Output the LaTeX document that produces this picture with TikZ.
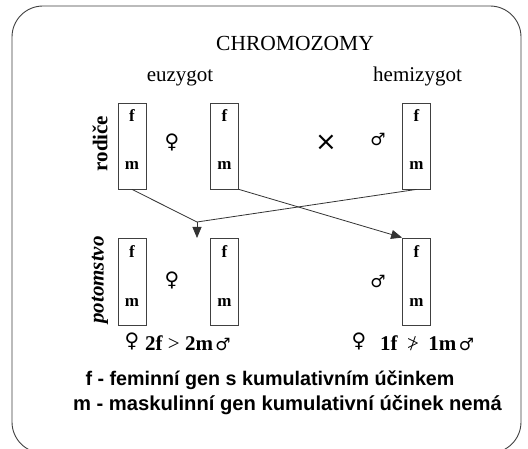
\documentclass[tikz,border=0pt]{standalone}
\usepackage{fontspec}
\setmainfont{Liberation Serif}
\newfontfamily\legendfont{Liberation Sans}
\newfontfamily\symfont{DejaVu Sans}
\usetikzlibrary{arrows.meta}

\begin{document}
\begin{tikzpicture}[x=1pt,y=-1pt,
  chrom/.style={draw=black!75, line width=0.8pt, minimum width=28pt, inner sep=0pt},
  parent/.style={chrom, minimum height=86pt},
  child/.style={chrom, minimum height=87pt},
  gene/.style={font=\fontsize{17}{17}\selectfont\bfseries, anchor=base, inner sep=0pt},
  heading/.style={font=\fontsize{21}{21}\selectfont, anchor=base, inner sep=0pt},
  rowlabel/.style={font=\fontsize{21}{21}\selectfont\bfseries, rotate=90, inner sep=0pt},
  sex/.style={font=\symfont\fontsize{17}{17}\selectfont, inner sep=0pt},
  female/.style={font=\symfont\fontsize{20}{20}\selectfont, inner sep=0pt},
  crossmark/.style={font=\symfont\fontsize{26}{26}\selectfont, inner sep=0pt},
  ratio/.style={font=\fontsize{21}{21}\selectfont\bfseries, anchor=base west, inner sep=0pt},
  legend/.style={font=\legendfont\fontsize{19.7}{19.7}\selectfont\bfseries, anchor=base, inner sep=0pt},
  link/.style={draw=black!80, line width=0.8pt},
  tip/.style={-{Triangle[width=9pt,length=11pt]}}
]
\clip (0,0) rectangle (528,449);
\useasboundingbox (0,0) rectangle (528,449);
\fill[white] (0,0) rectangle (528,449);

% frame
\draw[black!75, line width=0.9pt, rounded corners=31pt] (12,6) rectangle (521,453);

% titles
\node[heading, font=\fontsize{21.5}{21.5}\selectfont] (title) at (295,50.5) {CHROMOZOMY};
\node[heading] (eu) at (180,82) {euzygot};
\node[heading] (hemi) at (417.5,82) {hemizygot};

% row labels
\node[rowlabel] (rodice) at (100,143.5) {rodiče};
\node[rowlabel, font=\fontsize{21}{21}\selectfont\bfseries\itshape] (potomstvo) at (100,280) {potomstvo};

% parental chromosomes
\node[parent] (pA) at (132,146) {};
\node[parent] (pB) at (224.5,146) {};
\node[parent] (pC) at (416.5,146) {};
\foreach \b in {pA,pB,pC}{
  \node[gene] (\b f) at ([yshift=-19pt]\b.north) {f};
  \node[gene] (\b m) at ([yshift=-67pt]\b.north) {m};
}

% offspring chromosomes
\node[child] (oA) at (132,281.5) {};
\node[child] (oB) at (224.5,281.5) {};
\node[child] (oC) at (416.5,281.5) {};
\foreach \b in {oA,oB,oC}{
  \node[gene] (\b f) at ([yshift=-20pt]\b.north) {f};
  \node[gene] (\b m) at ([yshift=-69pt]\b.north) {m};
}

% sex symbols and cross
\node[female] (fem1) at (172,142) {♀};
\node[crossmark] (cross) at (326,143) {×};
\node[sex] (mal1) at (378,140) {♂};
\node[female] (fem2) at (172,280) {♀};
\node[sex] (mal2) at (378,281) {♂};

% ratios
\node[female] (fem3) at (132,341) {♀};
\node[ratio] (r1) at (145,351) {2f {\mdseries >} 2m};
\node[sex, anchor=west] (mal3) at ([xshift=2pt,yshift=7pt]r1.base east) {♂};
\node[female] (fem4) at (359,341) {♀};
\node[ratio] (r2) at (380,351) {1f\hspace{0.45em}{\mdseries\ooalign{>\cr\hidewidth/\hidewidth}}\hspace{0.45em}1m};
\node[sex, anchor=west] (mal4) at ([xshift=2pt,yshift=7pt]r2.base east) {♂};

% legend
\node[legend] (lf) at (270,385) {f - feminní gen s kumulativním účinkem};
\node[legend, font=\legendfont\fontsize{20.2}{20.2}\selectfont\bfseries] (lm) at (287.5,410) {m - maskulinní gen kumulativní účinek nemá};

% inheritance paths
\coordinate (j) at (197,222);
\coordinate (t) at (197,238);
\draw[link] (pA.south) -- (j);
\draw[link] (pC.south) -- (j);
\draw[link, tip] (j) -- (t);
\draw[link, tip] (pB.south east) -- (oC.north west);
\end{tikzpicture}
\end{document}
